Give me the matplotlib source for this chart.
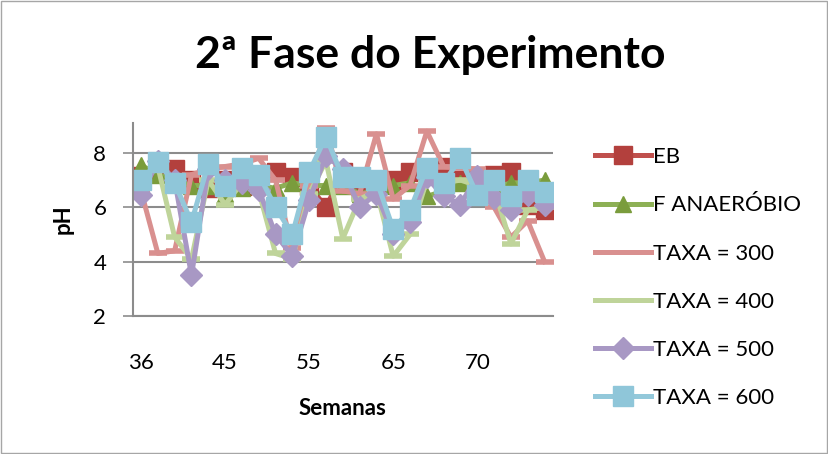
import matplotlib
matplotlib.use("Agg")
import matplotlib.pyplot as plt
from matplotlib.patches import Rectangle

plt.rcParams['font.family'] = ['Lato', 'DejaVu Sans']

# data (pH per week)
semanas = ["36", "37", "38", "39", "40", "45", "46", "47", "48", "49",
           "55", "56", "57", "58", "59", "65", "66", "67", "68", "69",
           "70", "71", "72", "73", "74"]
tick_labels = ["36", "45", "55", "65", "70"]

eb = [7.15, 7.3, 7.4, 7.0, 6.7, 7.0, 6.8, 6.9, 7.3, 7.1, 6.8, 6.0, 7.3,
      6.9, 6.9, 7.0, 7.3, 7.45, 7.5, 7.0, 7.1, 7.2, 7.3, 6.1, 5.9]
f_anaerobio = [7.55, 7.2, 7.0, 6.8, 6.8, 6.5, 6.7, 6.8, 6.7, 6.9, 6.8, 6.8, 6.8,
               6.5, 6.6, 6.8, 6.9, 6.4, 6.6, 6.9, 6.6, 6.7, 6.9, 6.9, 7.0]
taxa_300 = [6.6, 4.3, 4.4, 7.2, 7.4, 7.5, 7.6, 7.8, 7.0, 4.5, 6.8, 8.9, 6.6,
            6.5, 8.7, 6.3, 6.8, 8.8, 7.5, 7.45, 7.4, 6.0, 4.9, 5.5, 4.0]
taxa_400 = [7.0, 7.5, 4.9, 4.1, 7.0, 6.1, 6.9, 6.6, 4.3, 4.1, 6.5, 7.7, 4.85,
            6.3, 6.6, 4.2, 5.0, 7.0, 6.9, 7.0, 6.8, 6.7, 4.65, 5.9, 6.0]
taxa_500 = [6.45, 7.7, 7.0, 3.5, 7.4, 7.0, 6.9, 6.65, 5.0, 4.2, 6.25, 7.9, 7.4,
            6.0, 6.5, 5.0, 5.45, 7.1, 6.4, 6.1, 7.15, 6.35, 5.9, 6.45, 6.1]
taxa_600 = [7.0, 7.65, 6.9, 5.45, 7.6, 6.8, 7.45, 7.2, 6.0, 5.0, 7.3, 8.6, 7.1,
            7.1, 7.0, 5.2, 5.9, 7.45, 6.9, 7.8, 6.45, 7.0, 6.4, 7.0, 6.55]

fig = plt.figure(figsize=(8.29, 4.54), dpi=100)
ax = fig.add_axes([0.160, 0.304, 0.507, 0.425])

x = list(range(len(semanas)))
lw = 3.6

ax.plot(x, eb, color='#C0504D', lw=lw, marker='s', markersize=13,
        markerfacecolor='#B3403D', markeredgecolor='#B3403D', label='EB')
ax.plot(x, f_anaerobio, color='#8DB055', lw=lw, marker='^', markersize=12,
        markerfacecolor='#7A9C3C', markeredgecolor='#7A9C3C', label='F ANAERÓBIO')
ax.plot(x, taxa_300, color='#D9908F', lw=lw, marker='_', markersize=13,
        markeredgewidth=4, markeredgecolor='#D9908F', label='TAXA = 300')
ax.plot(x, taxa_400, color='#BFD49A', lw=lw, marker='_', markersize=13,
        markeredgewidth=4, markeredgecolor='#BFD49A', label='TAXA = 400')
ax.plot(x, taxa_500, color='#A898C4', lw=lw, marker='D', markersize=11,
        markerfacecolor='#A898C4', markeredgecolor='#A898C4', label='TAXA = 500')
ax.plot(x, taxa_600, color='#93C8DA', lw=lw, marker='s', markersize=14,
        markerfacecolor='#8FC6D9', markeredgecolor='#8FC6D9', label='TAXA = 600')

ax.set_xlim(-0.5, len(semanas) - 0.5)
ax.set_ylim(2, 9.1)
ax.set_yticks([2, 4, 6, 8])
ax.set_xticks([0, 5, 10, 15, 20])
ax.set_xticklabels(tick_labels)
ax.tick_params(axis='x', length=0, pad=27, labelsize=16)
ax.tick_params(axis='y', length=7, width=1.2, color='#8C8C8C', pad=12, labelsize=16)
ax.grid(axis='y', color='#8C8C8C', lw=1.5)
ax.set_axisbelow(True)
for s in ['top', 'right']:
    ax.spines[s].set_visible(False)
ax.spines['left'].set_color('#8C8C8C')
ax.spines['left'].set_linewidth(1.5)
ax.spines['bottom'].set_color('#8C8C8C')
ax.spines['bottom'].set_linewidth(1.5)

ax.set_xlabel('Semanas', fontsize=16, fontweight='bold', labelpad=18)
ax.set_ylabel('pH', fontsize=16, fontweight='bold', labelpad=14)

fig.text(0.519, 0.878, '2ª Fase do Experimento', fontsize=32, fontweight='bold',
         ha='center', va='center')

leg = fig.legend(loc='upper left', bbox_to_anchor=(0.694, 0.72), frameon=False,
                 fontsize=16, handlelength=2.5, handletextpad=0.1, labelspacing=1.27)
# dash markers melt into the line in the legend
for h in leg.get_lines()[2:4]:
    h.set_marker('None')

fig.patches.append(Rectangle((0.001, 0.002), 0.997, 0.995, transform=fig.transFigure,
                             fill=False, edgecolor='#A6A6A6', lw=1))

plt.savefig('out.png', dpi=100)
